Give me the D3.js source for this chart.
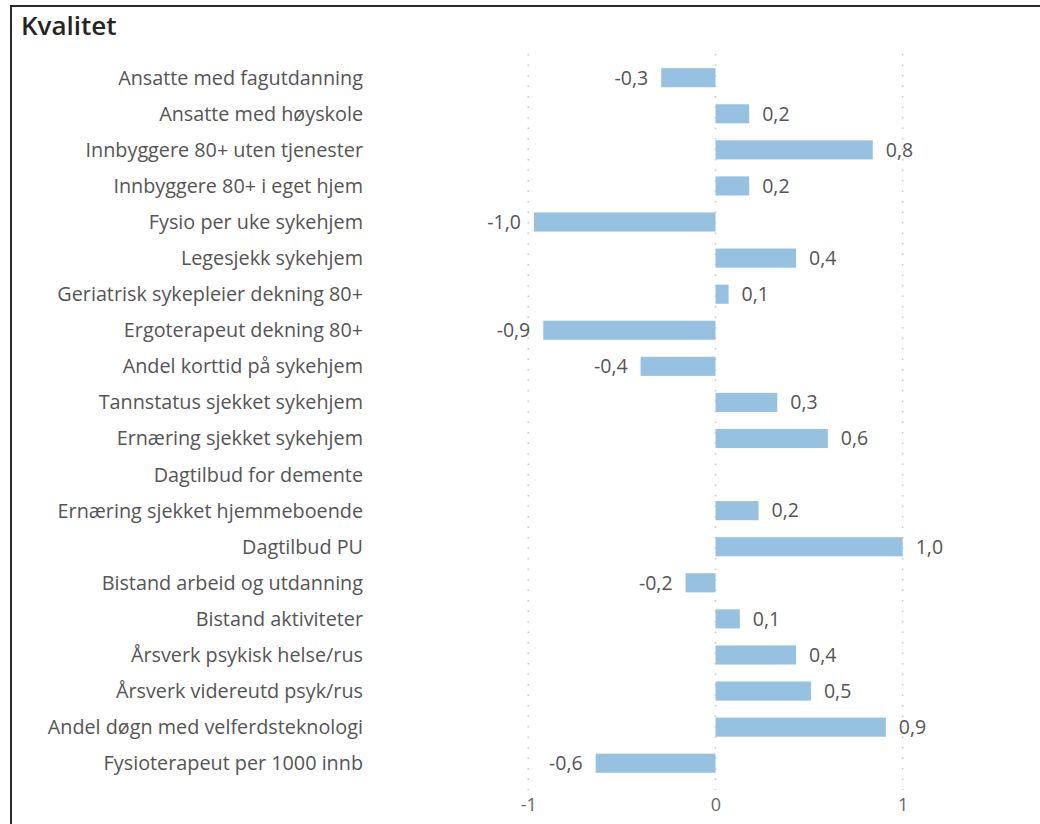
<!DOCTYPE html>
<html>
<head>
<meta charset="utf-8">
<script src="https://cdn.jsdelivr.net/npm/d3@7"></script>
<style>
  html, body { margin: 0; padding: 0; background: #fff; }
  svg { display: block; }
</style>
</head>
<body>
<svg id="chart" width="1040" height="824"></svg>
<script>
const title = "Kvalitet";
const categories = [
  "Ansatte med fagutdanning",
  "Ansatte med høyskole",
  "Innbyggere 80+ uten tjenester",
  "Innbyggere 80+ i eget hjem",
  "Fysio per uke sykehjem",
  "Legesjekk sykehjem",
  "Geriatrisk sykepleier dekning 80+",
  "Ergoterapeut dekning 80+",
  "Andel korttid på sykehjem",
  "Tannstatus sjekket sykehjem",
  "Ernæring sjekket sykehjem",
  "Dagtilbud for demente",
  "Ernæring sjekket hjemmeboende",
  "Dagtilbud PU",
  "Bistand arbeid og utdanning",
  "Bistand aktiviteter",
  "Årsverk psykisk helse/rus",
  "Årsverk videreutd psyk/rus",
  "Andel døgn med velferdsteknologi",
  "Fysioterapeut per 1000 innb"
];
const values = [-0.29, 0.18, 0.84, 0.18, -0.97, 0.43, 0.07, -0.92, -0.40, 0.33,
                0.60, null, 0.23, 1.00, -0.16, 0.13, 0.43, 0.51, 0.91, -0.64];
const xTicks = [-1, 0, 1];
const xTickLabels = ["-1", "0", "1"];

const data = categories.map((c, i) => ({ cat: c, val: values[i] }));

const svg = d3.select("#chart");
const FONT = "'Open Sans', 'Noto Sans', sans-serif";

// frame
svg.append("line").attr("x1", 10).attr("x2", 1040).attr("y1", 6).attr("y2", 6)
  .attr("stroke", "#2b2b2b").attr("stroke-width", 2);
svg.append("line").attr("x1", 11).attr("x2", 11).attr("y1", 5).attr("y2", 824)
  .attr("stroke", "#2b2b2b").attr("stroke-width", 2);

svg.append("text").attr("x", 21).attr("y", 35)
  .attr("font-family", FONT).attr("font-size", 26).attr("font-weight", 600)
  .attr("fill", "#252423").text(title);

const x = d3.scaleLinear().domain([-1, 1]).range([528.3, 902.7]);
const y = d3.scaleBand().domain(categories).range([59.66, 781.26])
  .paddingInner(0.47).paddingOuter(0.235);

// gridlines
svg.append("g").selectAll("line").data(xTicks).join("line")
  .attr("x1", d => x(d)).attr("x2", d => x(d))
  .attr("y1", 54).attr("y2", 790)
  .attr("stroke", "#c8c8c8").attr("stroke-width", 1.5)
  .attr("stroke-dasharray", "1.5,9");

// x axis tick labels
const xAxis = d3.axisBottom(x).tickValues(xTicks)
  .tickFormat((d, i) => xTickLabels[i]).tickSize(0).tickPadding(0);
const gx = svg.append("g").attr("transform", "translate(0,798)").call(xAxis);
gx.select(".domain").remove();
gx.selectAll("text").attr("font-family", FONT).attr("font-size", 18)
  .attr("fill", "#666").attr("dy", "0.71em");

// category labels
const yAxis = d3.axisLeft(y).tickSize(0).tickPadding(0);
const gy = svg.append("g").attr("transform", "translate(363,0)").call(yAxis);
gy.select(".domain").remove();
gy.selectAll("text").attr("font-family", FONT).attr("font-size", 19.8)
  .attr("fill", "#555").attr("dy", "0.35em");

// bars
const valid = data.filter(d => d.val !== null);
svg.append("g").selectAll("rect").data(valid).join("rect")
  .attr("x", d => x(Math.min(0, d.val)))
  .attr("width", d => Math.abs(x(d.val) - x(0)))
  .attr("y", d => y(d.cat))
  .attr("height", y.bandwidth())
  .attr("fill", "#97c1e1");

// data labels
const loc = d3.formatLocale({ decimal: ",", thousands: " ", grouping: [3], currency: ["", ""], minus: "-" });
const fmt = loc.format(".1f");
svg.append("g").selectAll("text").data(valid).join("text")
  .attr("x", d => d.val >= 0 ? x(d.val) + 13 : x(d.val) - 13)
  .attr("y", d => y(d.cat) + y.bandwidth() / 2)
  .attr("dy", "0.35em")
  .attr("text-anchor", d => d.val >= 0 ? "start" : "end")
  .attr("font-family", FONT).attr("font-size", 19.5)
  .attr("fill", "#555")
  .text(d => fmt(d.val));
</script>
</body>
</html>
